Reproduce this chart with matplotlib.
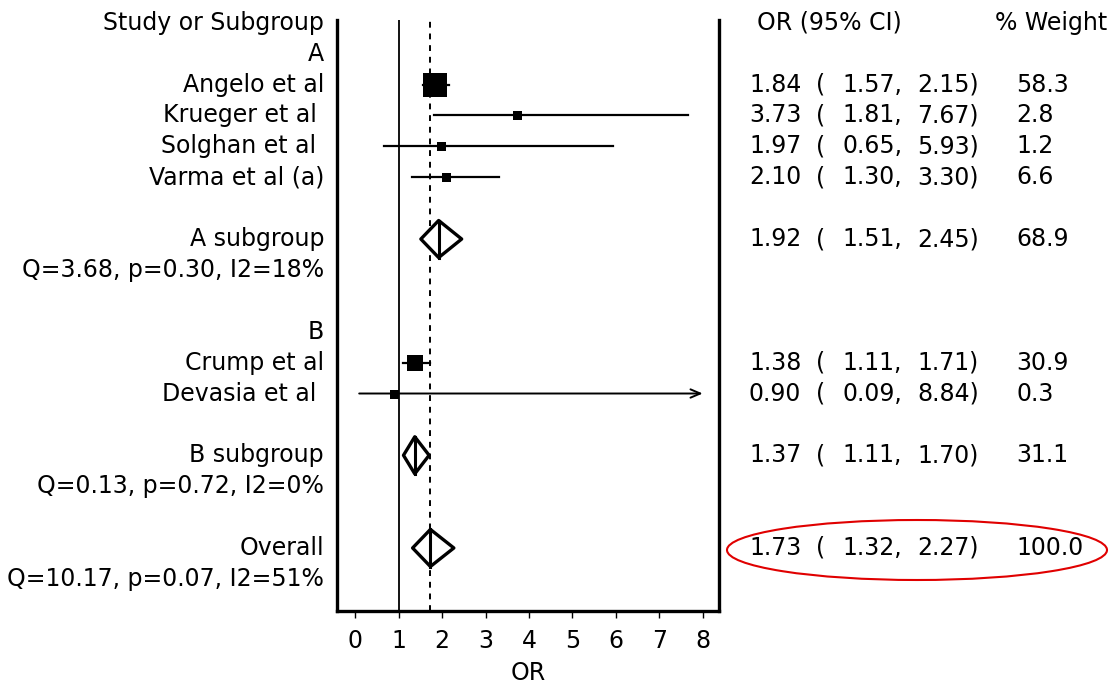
import matplotlib
matplotlib.use("Agg")
import matplotlib.pyplot as plt
from matplotlib.patches import Polygon, Ellipse
from matplotlib.transforms import blended_transform_factory

# ---- data ----
studies = ["Angelo et al", "Krueger et al ", "Solghan et al ", "Varma et al (a)",
           "Crump et al", "Devasia et al "]
study_rows = [2, 3, 4, 5, 11, 12]
or_est = [1.84, 3.73, 1.97, 2.10, 1.38, 0.90]
ci_lo = [1.57, 1.81, 0.65, 1.30, 1.11, 0.09]
ci_hi = [2.15, 7.67, 5.93, 3.30, 1.71, 8.84]
weights = [58.3, 2.8, 1.2, 6.6, 30.9, 0.3]

groups = ["A", "B"]
group_rows = [1, 10]

pooled = ["A subgroup", "B subgroup", "Overall"]
pooled_rows = [7, 14, 17]
pooled_est = [1.92, 1.37, 1.73]
pooled_lo = [1.51, 1.11, 1.32]
pooled_hi = [2.45, 1.70, 2.27]
pooled_w = [68.9, 31.1, 100.0]
het = ["Q=3.68, p=0.30, I2=18%", "Q=0.13, p=0.72, I2=0%", "Q=10.17, p=0.07, I2=51%"]

xticks = [0, 1, 2, 3, 4, 5, 6, 7, 8]
x_max = 8

W, H = 1117, 687
FS = 17
plt.rcParams["font.family"] = ["DejaVu Sans"]

fig = plt.figure(figsize=(W / 100, H / 100), dpi=100)
fig.patch.set_facecolor("white")
ax = fig.add_axes([337 / W, 1 - 611 / H, (718.7 - 337) / W, (611 - 20) / H])
ax.set_xlim(-0.421, 8.369)
ax.set_ylim(19.04, -0.09)

for s in ("left", "right", "bottom"):
    ax.spines[s].set_linewidth(2.4)
ax.spines["top"].set_visible(False)
ax.set_yticks([])
ax.set_xticks(xticks)
ax.tick_params(axis="x", direction="out", length=5, width=1, pad=8, labelsize=FS)
ax.set_xlabel("OR", fontsize=FS, labelpad=6)

# reference lines: null and pooled estimate
ax.axvline(1, color="black", lw=1.3, zorder=1)
ax.axvline(pooled_est[-1], color="black", lw=1.4, ls=(0, (3, 3)), zorder=1)

# studies
for r, e, lo, hi, w in zip(study_rows, or_est, ci_lo, ci_hi, weights):
    if hi > x_max:
        ax.annotate("", xy=(x_max, r), xytext=(lo, r),
                    arrowprops=dict(arrowstyle="->,head_length=0.7,head_width=0.3",
                                    lw=1.4, color="black", shrinkA=0, shrinkB=0),
                    zorder=2)
    else:
        ax.plot([lo, hi], [r, r], color="black", lw=1.6, zorder=2)
    side_px = max(9, 1.8 * w ** 0.64)
    ax.plot(e, r, marker="s", color="black", ms=side_px * 0.72, mew=0, zorder=3)

# pooled diamonds
hh = 0.6
for r, e, lo, hi in zip(pooled_rows, pooled_est, pooled_lo, pooled_hi):
    ax.add_patch(Polygon([(lo, r), (e, r - hh), (hi, r), (e, r + hh)], closed=True,
                         facecolor="white", edgecolor="black", lw=2.4,
                         joinstyle="round", zorder=4))
    ax.plot([e, e], [r - hh, r + hh], color="black", lw=2.2, zorder=5)

# text columns
tr = blended_transform_factory(fig.transFigure, ax.transData)


def put(x_px, row, s, ha="left"):
    fig.text(x_px / W, row, s, transform=tr, ha=ha, va="center", fontsize=FS)


put(324, 0, "Study or Subgroup", ha="right")
put(757, 0, "OR (95% CI)")
put(995, 0, "% Weight")
for g, r in zip(groups, group_rows):
    put(324, r, g, ha="right")
for name, r in zip(studies, study_rows):
    put(324, r, name, ha="right")
for name, q, r in zip(pooled, het, pooled_rows):
    put(324, r, name, ha="right")
    put(324, r + 1, q, ha="right")

rows = study_rows + pooled_rows
ests = or_est + pooled_est
los = ci_lo + pooled_lo
his = ci_hi + pooled_hi
ws = weights + pooled_w
for r, e, lo, hi, w in zip(rows, ests, los, his, ws):
    put(749, r, f"{e:.2f}")
    put(816, r, "(")
    put(842, r, f"{lo:.2f},")
    put(917, r, f"{hi:.2f})")
    put(1016, r, f"{w:.1f}")

# highlight around the overall result
fig.patches.append(Ellipse((917 / W, 1 - 550 / H), 380 / W, 60 / H,
                           transform=fig.transFigure, fill=False,
                           edgecolor="#e00000", lw=1.5))

fig.savefig("out.png", dpi=100, facecolor="white")
